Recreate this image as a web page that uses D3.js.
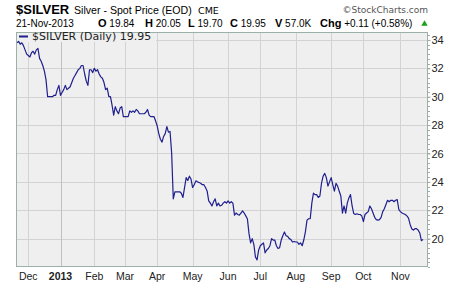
<!DOCTYPE html>
<html>
<head>
<meta charset="utf-8">
<script src="https://d3js.org/d3.v7.min.js"></script>
<style>
  body { margin: 0; background: #fff; }
  svg { display: block; }
</style>
</head>
<body>
<svg id="chart" width="460" height="284"></svg>
<script>
// daily closes, one list per month (trading days only)
const nov2012 = [33.8, 33.9, 33.7, 33.8, 33.6, 33.3, 33.0]
const dec2012 = [32.9, 32.8, 33.1, 33.2, 33.0, 33.3, 33.4, 32.7, 32.5, 32.2, 31.8, 31.2, 30.0, 30.0, 30.0, 30.0, 30.1, 30.1, 30.5, 30.8]
const jan2013 = [30.1, 30.3, 30.5, 30.8, 30.5, 30.6, 30.7, 31.0, 31.3, 31.5, 31.7, 31.9, 32.0, 32.2, 32.2, 31.6, 31.1, 30.8, 31.9, 31.9, 31.7]
const feb2013 = [32.0, 31.8, 31.9, 31.6, 31.4, 31.3, 31.0, 30.5, 30.6, 30.0, 30.0, 29.4, 28.7, 29.3, 29.0, 28.8, 29.2, 29.3, 28.6]
const mar2013 = [28.6, 28.6, 28.6, 29.0, 28.9, 29.0, 28.9, 29.1, 29.0, 28.8, 28.8, 28.8, 28.8, 28.9, 29.1, 28.7, 28.6, 28.6, 28.6, 28.3]
const apr2013 = [27.95, 27.4, 27.0, 26.8, 27.2, 27.4, 27.9, 27.5, 27.55, 26.0, 22.8, 23.3, 23.3, 23.3, 23.3, 23.2, 22.9, 23.6, 24.3, 24.1, 24.4, 24.2]
const may2013 = [23.6, 23.8, 24.07, 24.0, 23.95, 23.9, 23.8, 23.8, 23.6, 23.36, 22.66, 22.5, 22.3, 22.6, 22.8, 22.3, 22.5, 22.3, 22.35, 22.5, 22.6, 22.5]
const jun2013 = [22.66, 22.5, 22.6, 22.5, 21.65, 21.8, 21.7, 21.65, 21.8, 21.95, 21.8, 21.6, 21.4, 20.35, 19.7, 20.0, 19.6, 18.7, 18.5, 19.2]
const jul2013 = [19.5, 19.6, 19.7, 19.0, 19.2, 19.3, 19.5, 20.0, 19.9, 19.9, 19.5, 19.3, 19.36, 19.9, 20.2, 20.47, 20.2, 20.16, 20.0, 19.93, 19.76, 19.8]
const aug2013 = [19.76, 19.76, 19.6, 19.7, 19.5, 19.9, 20.47, 21.3, 21.4, 21.4, 22.5, 23.2, 23.1, 23.1, 22.9, 23.0, 23.9, 24.4, 24.6, 24.3, 23.7, 24.0]
const sep2013 = [24.3, 23.8, 23.34, 23.9, 23.7, 23.34, 23.0, 21.8, 22.3, 21.8, 22.5, 22.87, 23.1, 22.3, 21.77, 21.7, 21.75, 21.7, 21.7, 21.6]
const oct2013 = [21.2, 21.7, 21.8, 21.9, 22.3, 22.1, 21.8, 21.5, 21.34, 21.3, 21.34, 21.5, 21.9, 22.1, 22.4, 22.7, 22.6, 22.7, 22.7, 22.6, 22.7, 22.75, 22.05]
const nov2013 = [21.9, 21.8, 21.75, 21.7, 21.6, 21.45, 21.0, 20.7, 20.6, 20.7, 20.7, 20.6, 20.4, 19.85, 19.95]

// labels for the month starts (Dec 2012 .. Nov 2013)
const monthLabels = ['Dec', '2013', 'Feb', 'Mar', 'Apr', 'May', 'Jun', 'Jul', 'Aug', 'Sep', 'Oct', 'Nov']
const yTicks = [20, 22, 24, 26, 28, 30, 32, 34]

// header values
const symbol = '$SILVER'
const seriesName = 'Silver - Spot Price (EOD)'
const exchange = 'CME'
const quoteDate = '21-Nov-2013'
const quote = [
  {key: 'O', value: '19.84'},
  {key: 'H', value: '20.05'},
  {key: 'L', value: '19.70'},
  {key: 'C', value: '19.95'},
  {key: 'V', value: '57.0K'},
  {key: 'Chg', value: '+0.11 (+0.58%)'}
]
const legendText = '$SILVER (Daily) 19.95'

const months = [nov2012, dec2012, jan2013, feb2013, mar2013, apr2013, may2013, jun2013, jul2013, aug2013, sep2013, oct2013, nov2013]
const closes = months.flat()
// index of first trading day of each month, skip the partial Nov 2012
const monthStarts = []
let count = 0
months.forEach(m => { monthStarts.push(count); count += m.length })
monthStarts.shift()

const plot = { left: 16, top: 32, right: 428, bottom: 267 }
const font = 'Liberation Sans, Arial, sans-serif'

const svg = d3.select('#chart')

// x scale over trading days
const xscale = d3.scaleLinear()
  .domain([0, closes.length - 1])
  .range([17, 423])
// y scale
const yscale = d3.scaleLinear()
  .domain([18, 34.56])
  .range([plot.bottom, plot.top])

// plot background
svg.append('rect')
  .attr('x', plot.left)
  .attr('y', plot.top)
  .attr('width', plot.right - plot.left)
  .attr('height', plot.bottom - plot.top)
  .attr('fill', '#efefef')

// horizontal grid
svg.append('g')
  .selectAll('line')
  .data(yTicks)
  .enter()
  .append('line')
  .attr('x1', plot.left)
  .attr('x2', plot.right)
  .attr('y1', d => Math.round(yscale(d)) + 0.5)
  .attr('y2', d => Math.round(yscale(d)) + 0.5)
  .attr('stroke', '#d3d3d3')

// vertical grid at month starts, the year line a bit darker
svg.append('g')
  .selectAll('line')
  .data(monthStarts)
  .enter()
  .append('line')
  .attr('x1', d => Math.round(xscale(d)) + 0.5)
  .attr('x2', d => Math.round(xscale(d)) + 0.5)
  .attr('y1', plot.top)
  .attr('y2', plot.bottom)
  .attr('stroke', (d, i) => monthLabels[i] === '2013' ? '#c0c0c0' : '#d3d3d3')

// legend box covers the grid
svg.append('rect')
  .attr('x', plot.left + 1)
  .attr('y', plot.top + 1)
  .attr('width', 139)
  .attr('height', 9)
  .attr('fill', '#efefef')

// price line
const line = d3.line()
  .x((d, i) => xscale(i))
  .y(d => yscale(d))
svg.append('path')
  .datum(closes)
  .attr('d', line)
  .attr('fill', 'none')
  .attr('stroke', '#1f1f8f')
  .attr('stroke-width', 1.2)
  .attr('stroke-linejoin', 'round')

// plot border
svg.append('rect')
  .attr('x', plot.left + 0.5)
  .attr('y', plot.top + 0.5)
  .attr('width', plot.right - plot.left - 1)
  .attr('height', plot.bottom - plot.top - 1)
  .attr('fill', 'none')
  .attr('stroke', '#9cb0a7')

// right axis, minor ticks then labelled ticks
const minorTicks = d3.range(18, 34.6, 1 / 3)
svg.append('g')
  .selectAll('line')
  .data(minorTicks)
  .enter()
  .append('line')
  .attr('x1', plot.right)
  .attr('x2', plot.right + 2)
  .attr('y1', d => Math.round(yscale(d)) + 0.5)
  .attr('y2', d => Math.round(yscale(d)) + 0.5)
  .attr('stroke', '#9cb0a7')
const rightAxis = d3.axisRight(yscale)
  .tickValues(yTicks)
  .tickSize(3)
  .tickPadding(1)
const rightG = svg.append('g')
  .attr('transform', `translate(${plot.right - 0.5}, 0)`)
  .call(rightAxis)
rightG.select('.domain').remove()
rightG.selectAll('line').attr('stroke', '#9cb0a7')
rightG.selectAll('text')
  .attr('font-family', font)
  .attr('font-size', 11)
  .attr('fill', '#222')

// month labels along the bottom
svg.append('g')
  .selectAll('text')
  .data(monthStarts)
  .enter()
  .append('text')
  .attr('x', d => xscale(d))
  .attr('y', 280)
  .attr('text-anchor', 'middle')
  .attr('font-family', font)
  .attr('font-size', 10.5)
  .attr('font-weight', (d, i) => monthLabels[i] === '2013' ? 'bold' : 'normal')
  .attr('fill', '#222')
  .text((d, i) => monthLabels[i])

// header line 1
svg.append('text')
  .attr('x', 16).attr('y', 14)
  .attr('font-family', font).attr('font-size', 13).attr('font-weight', 'bold')
  .text(symbol)
svg.append('text')
  .attr('x', 74).attr('y', 14)
  .attr('font-family', font).attr('font-size', 10.6)
  .text(seriesName)
svg.append('text')
  .attr('x', 198).attr('y', 14)
  .attr('font-family', 'DejaVu Sans, sans-serif').attr('font-size', 9.5)
  .text(exchange)
svg.append('text')
  .attr('x', 428).attr('y', 13)
  .attr('text-anchor', 'end')
  .attr('font-family', 'DejaVu Sans, sans-serif').attr('font-size', 9)
  .attr('fill', '#555')
  .text('\u00a9StockCharts.com')

// header line 2
svg.append('text')
  .attr('x', 16).attr('y', 27)
  .attr('font-family', font).attr('font-size', 10)
  .text(quoteDate)
const quoteX = [98, 145, 188, 230, 275, 320]
quote.forEach((q, i) => {
  const t = svg.append('text')
    .attr('x', quoteX[i]).attr('y', 27)
    .attr('font-family', font).attr('font-size', 10)
  t.append('tspan').attr('font-weight', 'bold').attr('font-size', 11).text(q.key)
  t.append('tspan').text(' ' + q.value)
})
// green up marker
svg.append('path')
  .attr('d', d3.symbol().type(d3.symbolTriangle).size(18))
  .attr('transform', 'translate(424.5, 24)')
  .attr('fill', '#1aa01a')

// legend
svg.append('line')
  .attr('x1', 19).attr('x2', 28)
  .attr('y1', 36.5).attr('y2', 36.5)
  .attr('stroke', '#1f1f8f')
  .attr('stroke-width', 2)
svg.append('text')
  .attr('x', 32).attr('y', 40)
  .attr('font-family', 'DejaVu Sans, sans-serif').attr('font-size', 11)
  .attr('fill', '#222')
  .text(legendText)
</script>
</body>
</html>
